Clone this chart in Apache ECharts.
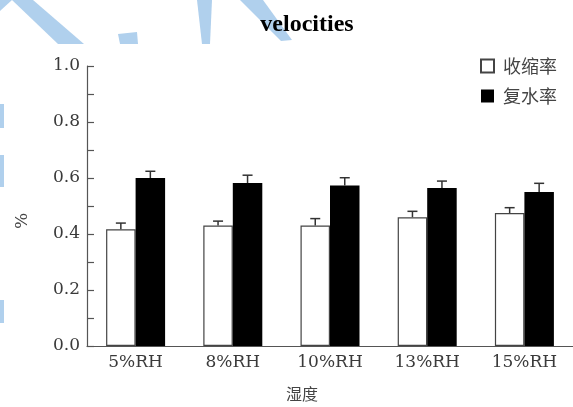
<!DOCTYPE html>
<html>
<head>
<meta charset="utf-8">
<script src="https://cdn.jsdelivr.net/npm/echarts@6/dist/echarts.min.js"></script>
<style>html,body{margin:0;padding:0;background:#fff}#c{width:573px;height:407px}</style>
</head>
<body>
<div id="c"></div>
<script>
// ---- data ----
var categories = ['5%RH', '8%RH', '10%RH', '13%RH', '15%RH'];
var shrinkName = '收缩率';
var rehydName = '复水率';
var shrinkValues = [0.417, 0.430, 0.430, 0.460, 0.475];
var shrinkErrors = [0.022, 0.016, 0.025, 0.021, 0.019];
var rehydValues = [0.600, 0.582, 0.573, 0.564, 0.550];
var rehydErrors = [0.024, 0.028, 0.028, 0.025, 0.031];
var yTicks = [0, 0.2, 0.4, 0.6, 0.8, 1.0];

// ---- chart ----
var BAR_W = 29.5;
var chart = echarts.init(document.getElementById('c'), null, {renderer: 'canvas'});

function errorSeries(values, errors, sign) {
  var data = values.map(function (v, i) { return [i, v, v + errors[i]]; });
  return {
    type: 'custom',
    silent: true,
    z: 5,
    data: data,
    renderItem: function (params, api) {
      var i = api.value(0);
      var base = api.coord([i, api.value(1)]);
      var top = api.coord([i, api.value(2)]);
      var x = base[0] + sign * BAR_W / 2;
      var style = {stroke: '#333', lineWidth: 1.5};
      return {
        type: 'group',
        children: [
          {type: 'line', shape: {x1: x, y1: base[1], x2: x, y2: top[1]}, style: style},
          {type: 'line', shape: {x1: x - 5, y1: top[1], x2: x + 5, y2: top[1]}, style: style}
        ]
      };
    }
  };
}

var wm = '#b0d0ed';
var option = {
  animation: false,
  backgroundColor: '#fff',
  graphic: {
    elements: [
      {type: 'polygon', id: 'w1', z: -10, shape: {points: [[12, 0], [33, 0], [84, 44], [58, 44]]}, style: {fill: wm}},
      {type: 'polygon', id: 'w2', z: -10, shape: {points: [[0, 0], [12, 0], [0, 11]]}, style: {fill: wm}},
      {type: 'polygon', id: 'w3', z: -10, shape: {points: [[118, 34], [137, 32], [138, 44], [120, 44]]}, style: {fill: wm}},
      {type: 'polygon', id: 'w4', z: -10, shape: {points: [[197, 0], [212, 0], [210, 44], [202, 44]]}, style: {fill: wm}},
      {type: 'polygon', id: 'w5', z: -10, shape: {points: [[240, 0], [263, 0], [292, 40], [281, 41]]}, style: {fill: wm}},
      {type: 'rect', id: 'w6', z: -10, shape: {x: 0, y: 104, width: 4, height: 24}, style: {fill: wm}},
      {type: 'rect', id: 'w7', z: -10, shape: {x: 0, y: 155, width: 4, height: 32}, style: {fill: wm}},
      {type: 'rect', id: 'w8', z: -10, shape: {x: 0, y: 300, width: 4, height: 23}, style: {fill: wm}}
    ]
  },
  title: {
    text: 'velocities',
    left: 302,
    textAlign: 'center',
    top: 8,
    textStyle: {fontFamily: 'Liberation Serif', fontWeight: 'bold', fontSize: 24, color: '#000'}
  },
  legend: {
    data: [shrinkName, rehydName],
    orient: 'vertical',
    left: 480,
    top: 57,
    padding: 0,
    icon: 'rect',
    itemWidth: 13,
    itemHeight: 13,
    itemGap: 12,
    textStyle: {fontFamily: 'Noto Sans CJK SC', fontSize: 18, color: '#444', padding: [0, 0, 0, 4]}
  },
  grid: {left: 87, top: 66, bottom: 61, right: -6, containLabel: false},
  xAxis: {
    type: 'category',
    data: categories,
    name: '湿度',
    nameLocation: 'middle',
    nameGap: 40,
    nameTextStyle: {fontFamily: 'Noto Sans CJK SC', fontSize: 16, color: '#444', padding: [0, 0, 0, -56]},
    axisLine: {lineStyle: {color: '#555', width: 1.2}},
    axisTick: {show: false},
    axisLabel: {fontFamily: 'DejaVu Serif', fontSize: 17, color: '#3a3a3a', margin: 8}
  },
  yAxis: {
    type: 'value',
    min: yTicks[0],
    max: yTicks[yTicks.length - 1],
    interval: 0.2,
    name: '%',
    nameLocation: 'middle',
    nameGap: 56,
    nameRotate: 90,
    nameTextStyle: {fontFamily: 'DejaVu Serif', fontSize: 17, color: '#444', padding: [0, 30, 0, 0]},
    axisLine: {show: true, lineStyle: {color: '#555', width: 1.2}},
    axisTick: {show: true, inside: true, length: 7, lineStyle: {color: '#555', width: 1.2}},
    minorTick: {show: true, splitNumber: 2, length: 7, lineStyle: {color: '#555', width: 1.2}},
    splitLine: {show: false},
    axisLabel: {
      fontFamily: 'DejaVu Serif', fontSize: 17, color: '#3a3a3a', margin: 7,
      formatter: function (v) { return v.toFixed(1); }
    }
  },
  series: [
    {
      name: shrinkName,
      type: 'bar',
      data: shrinkValues,
      barWidth: BAR_W,
      barGap: '0%',
      itemStyle: {color: '#fff', borderColor: '#444', borderWidth: 1.2}
    },
    {
      name: rehydName,
      type: 'bar',
      data: rehydValues,
      barWidth: BAR_W,
      barGap: '0%',
      itemStyle: {color: '#000', borderColor: '#000', borderWidth: 0}
    },
    errorSeries(shrinkValues, shrinkErrors, -1),
    errorSeries(rehydValues, rehydErrors, 1)
  ]
};
chart.setOption(option);
</script>
</body>
</html>
